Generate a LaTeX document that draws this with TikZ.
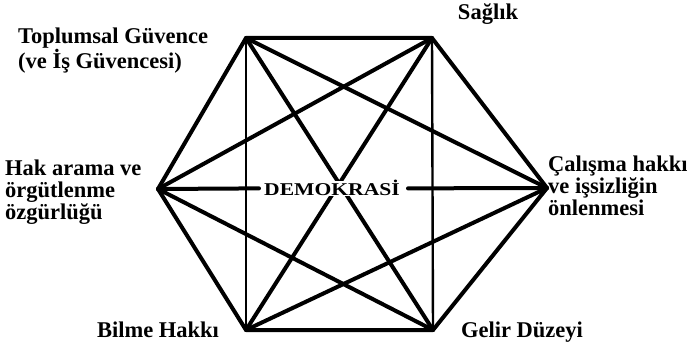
\documentclass[tikz,border=0pt]{standalone}
\usepackage{fontspec}
\setmainfont{Liberation Serif}
\usetikzlibrary{backgrounds}
\begin{document}
\begin{tikzpicture}[x=1pt,y=-1pt,
  edge/.style={line width=4pt,line cap=round,line join=round},
  vedge/.style={line width=2.4pt,line cap=round},
  lbl/.style={inner sep=0pt,align=left,font=\bfseries\fontsize{22.5}{22}\selectfont},
  lbltight/.style={lbl,font=\bfseries\fontsize{22.5}{19.5}\selectfont},
  center/.style={inner sep=0pt,fill=white,font=\bfseries\fontsize{18}{20}\selectfont}]
\useasboundingbox (0,0) rectangle (687,352);
\coordinate (TL) at (246,38);
\coordinate (TR) at (432,38);
\coordinate (R) at (547,188);
\coordinate (BR) at (433,330);
\coordinate (BL) at (246,330);
\coordinate (L) at (158,189);
\node[center,anchor=base] (demo) at (332,196) {\scalebox{1.2}[1]{DEMOKRASİ}};
\begin{scope}[on background layer]
\draw[vedge] (TL) -- (BL);
\draw[vedge] (TR) -- (BR);
\draw[edge] (TL) -- (TR) -- (R) -- (BR) -- (BL) -- (L) -- cycle;
\draw[edge] (TL) -- (R);
\draw[edge] (TL) -- (BR);
\draw[edge] (TR) -- (BL);
\draw[edge] (TR) -- (L);
\draw[edge] (R) -- (BL);
\draw[edge] (BR) -- (L);
\draw[edge] (L) -- ([xshift=-5pt]demo.west);
\draw[edge] ([xshift=8pt]demo.east) -- (R);
\end{scope}
\node[lbltight,anchor=west] (sg) at (18,51) {Toplumsal Güvence\\(ve İş Güvencesi)};
\node[lbl,anchor=base] (sag) at (488,20) {Sağlık};
\node[lbl,anchor=west] (hak) at (5,192) {Hak arama ve\\örgütlenme\\özgürlüğü};
\node[lbl,anchor=west] (cal) at (548,186) {Çalışma hakkı\\ve işsizliğin\\önlenmesi};
\node[lbl,anchor=base] (bil) at (158,337) {Bilme Hakkı};
\node[lbl,anchor=base] (gel) at (522,337) {Gelir Düzeyi};
\end{tikzpicture}
\end{document}
